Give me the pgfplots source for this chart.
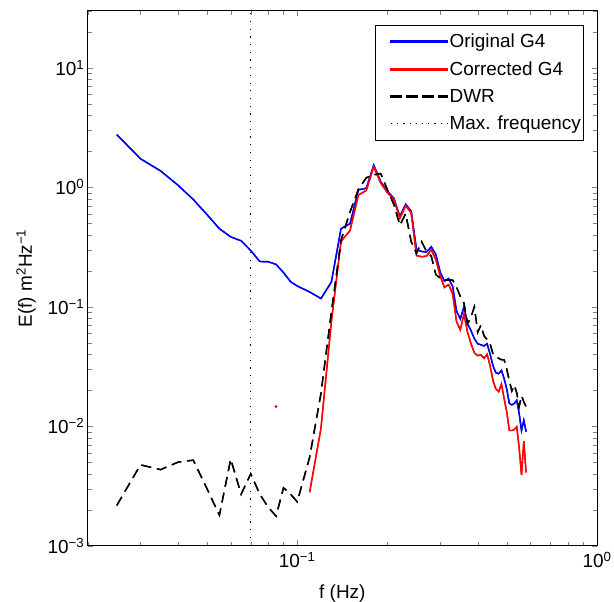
\documentclass[border=0pt]{standalone}
\usepackage{fontspec}
\setmainfont{Liberation Sans}
\usepackage{pgfplots}
\pgfplotsset{compat=1.18}
\usepackage{pgfplotstable}

\pgfplotstableread{
f     orig    dwr
0.025 2.76    0.00217
0.030 1.73    0.00475
0.035 1.37    0.00433
0.040 1.04    0.0050
0.045 0.79    0.0052
0.050 0.59    0.0030
0.055 0.45    0.0018
0.060 0.384   0.0053
0.065 0.356   0.0027
0.070 0.295   0.0040
0.075 0.239   0.0027
0.080 0.238   0.0021
0.085 0.226   0.00177
0.090 0.193   0.00305
0.095 0.162   0.0027
0.100 0.149   0.00233
0.11  0.133   0.0055
0.12  0.117   0.0188
0.13  0.161   0.09
0.14  0.45    0.36
0.15  0.495   0.62
0.16  0.95    0.96
0.17  0.98    1.20
0.18  1.53    1.27
0.19  1.11    1.30
0.20  0.92    0.95
0.21  0.81    0.72
0.22  0.57    0.48
0.23  0.72    0.60
0.24  0.63    0.35
0.25  0.30    0.28
0.26  0.29    0.35
0.27  0.287   0.29
0.28  0.317   0.265
0.29  0.274   0.186
0.30  0.194   0.173
0.31  0.164   0.167
0.32  0.172   0.167
0.33  0.148   0.167
0.34  0.092   0.146
0.35  0.079   0.122
0.36  0.100   0.107
0.37  0.072   0.072
0.38  0.063   0.082
0.39  0.054   0.10
0.40  0.049   0.061
0.41  0.048   0.070
0.42  0.047   0.057
0.43  0.049   0.053
0.44  0.040   0.049
0.45  0.032   0.040
0.46  0.028   0.038
0.47  0.0275  0.037
0.48  0.0293  0.036
0.49  0.025   0.036
0.50  0.0205  0.030
0.51  0.0155  0.024
0.52  0.0151  0.0197
0.53  0.0155  0.022
0.54  0.0165  0.019
0.55  0.0128  0.0146
0.56  0.0092  0.018
0.57  0.0112  0.016
0.58  0.0090  0.0146
}\datatable

\pgfplotstableread{
f     corr
0.11  0.0028
0.12  0.0096
0.13  0.075
0.14  0.353
0.15  0.433
0.16  0.86
0.17  0.94
0.18  1.48
0.19  1.08
0.20  0.90
0.21  0.79
0.22  0.55
0.23  0.70
0.24  0.61
0.25  0.268
0.26  0.262
0.27  0.265
0.28  0.30
0.29  0.248
0.30  0.18
0.31  0.145
0.32  0.153
0.33  0.128
0.34  0.075
0.35  0.064
0.36  0.087
0.37  0.061
0.38  0.049
0.39  0.041
0.40  0.039
0.41  0.0395
0.42  0.037
0.43  0.040
0.44  0.032
0.45  0.024
0.46  0.0205
0.47  0.0195
0.48  0.0225
0.49  0.017
0.50  0.0132
0.51  0.0092
0.52  0.0092
0.53  0.0094
0.54  0.0099
0.55  0.0066
0.56  0.0039
0.57  0.0075
0.58  0.0041
}\corrtable

\begin{document}
\begin{tikzpicture}
\useasboundingbox (-87.7bp,-56.3bp) rectangle (526.3bp,545.7bp);
\begin{axis}[
  at={(0,0)}, anchor=south west,
  scale only axis, width=509.3bp, height=535bp,
  xmode=log, ymode=log,
  xmin=0.02, xmax=1, ymin=1e-3, ymax=30,
  xtick={0.1,1},
  xticklabels={10\textsuperscript{−1},10\textsuperscript{0}},
  ytick={0.001,0.01,0.1,1,10},
  yticklabels={10\textsuperscript{−3},10\textsuperscript{−2},10\textsuperscript{−1},10\textsuperscript{0},10\textsuperscript{1}},
  minor xtick={0.02,0.03,0.04,0.05,0.06,0.07,0.08,0.09,0.2,0.3,0.4,0.5,0.6,0.7,0.8,0.9},
  minor ytick={0.002,0.003,0.004,0.005,0.006,0.007,0.008,0.009,0.02,0.03,0.04,0.05,0.06,0.07,0.08,0.09,0.2,0.3,0.4,0.5,0.6,0.7,0.8,0.9,2,3,4,5,6,7,8,9,20,30},
  tick align=inside,
  major tick length=5.5bp, minor tick length=4bp,
  axis line style={line width=0.8bp},
  every axis plot/.append style={line width=1.4bp},
  font=\fontsize{19}{22}\selectfont,
  xticklabel style={yshift=-3bp},
  xlabel={f (Hz)},
  xlabel style={yshift=-10bp},
  ylabel={E(f) m\textsuperscript{2}Hz\textsuperscript{−1}},
  ylabel style={yshift=5bp},
  legend cell align=left,
  legend style={at={(1,1)}, anchor=north east, xshift=-14bp, yshift=-14bp,
    draw=black, row sep=8.5bp, inner xsep=0bp, inner ysep=7bp},
]
\addplot[blue, mark=none, forget plot] table[x=f, y=orig] {\datatable};
\addplot[blue, mark=none, forget plot] table[x=f, y=orig] {\datatable};
\addplot[red, mark=none, forget plot] table[x=f, y=corr] {\corrtable};
\addplot[red, mark=none, forget plot] table[x=f, y=corr] {\corrtable};
\addplot[black, mark=none, dash pattern=on 10bp off 6bp, forget plot] table[x=f, y=dwr] {\datatable};
\addplot[black, mark=none, dash pattern=on 10bp off 6bp, forget plot] table[x=f, y=dwr] {\datatable};
\addplot[black, line width=0.9bp, mark=none, dash pattern=on 1.2bp off 6.5bp, forget plot] coordinates {(0.07,0.001) (0.07,30)};
\addplot[red, only marks, mark=*, mark size=0.6bp, forget plot] coordinates {(0.085,0.0146)};
\addlegendimage{legend image code/.code={\path (-15bp,0bp); \fill[blue] (0bp,-0.7bp) rectangle (56bp,0.7bp);}}
\addlegendentry{Original G4}
\addlegendimage{legend image code/.code={\path (-15bp,0bp); \fill[red] (0bp,-0.7bp) rectangle (56bp,0.7bp);}}
\addlegendentry{Corrected G4}
\addlegendimage{legend image code/.code={\path (-15bp,0bp); \fill[black] (0bp,-0.7bp) rectangle (10bp,0.7bp) (16bp,-0.7bp) rectangle (26bp,0.7bp) (32bp,-0.7bp) rectangle (42bp,0.7bp) (48bp,-0.7bp) rectangle (56bp,0.7bp);}}
\addlegendentry{DWR}
\addlegendimage{legend image code/.code={\path (-15bp,0bp); \draw[black, line width=0.9bp, dash pattern=on 1.2bp off 5bp] (0bp,0bp) -- (56bp,0bp);}}
\addlegendentry{Max. frequency}
\end{axis}
\end{tikzpicture}
\end{document}
